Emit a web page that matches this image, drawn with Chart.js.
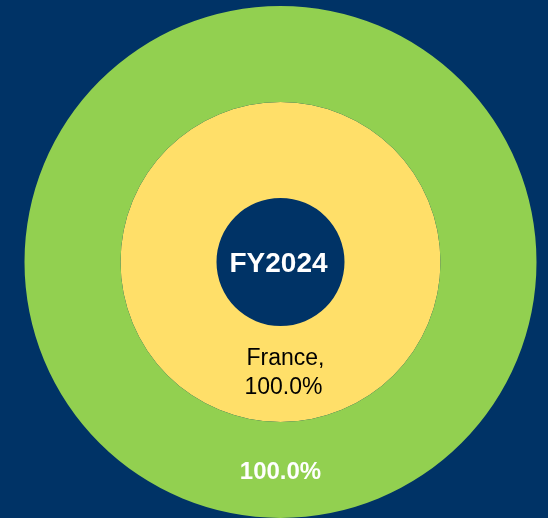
<!DOCTYPE html>
<html>
<head>
<meta charset="utf-8">
<script src="https://cdn.jsdelivr.net/npm/chart.js@4.4.1/dist/chart.umd.min.js"></script>
<style>
  html, body { margin: 0; padding: 0; background: #003366; }
  #wrap { width: 548px; height: 518px; }
</style>
</head>
<body>
<div id="wrap"><canvas id="ringChart" width="548" height="518"></canvas></div>
<script>
// dados do gráfico
const categories = ["France"]
const outerValues = [100]   // anel externo (total)
const innerValues = [100]   // anel interno (por país)
const centerTitle = "FY2024"

const outerColors = ["#92D050"]
const innerColors = ["#FFDF69"]

// porcentagem de cada fatia
function pct(values, i) {
  const total = values.reduce((a, b) => a + b, 0)
  return (values[i] / total * 100).toFixed(1) + "%"
}

// plugin simples para escrever os rótulos das fatias e o título central
const ringLabels = {
  id: "ringLabels",
  afterDatasetsDraw(chart) {
    const ctx = chart.ctx
    ctx.save()
    ctx.textAlign = "center"
    ctx.textBaseline = "middle"

    // anel externo: só a porcentagem, branco e negrito
    chart.getDatasetMeta(0).data.forEach((arc, i) => {
      const p = arc.getCenterPoint()
      ctx.fillStyle = "#ffffff"
      ctx.font = "bold 24px 'Liberation Sans', Arial, sans-serif"
      ctx.fillText(pct(outerValues, i), p.x, p.y + 2)
    })

    // anel interno: categoria + porcentagem
    chart.getDatasetMeta(1).data.forEach((arc, i) => {
      const p = arc.getCenterPoint()
      ctx.fillStyle = "#000000"
      ctx.font = "23px 'Liberation Sans', Arial, sans-serif"
      ctx.fillText(categories[i] + ",", p.x + 5, p.y - 15)
      ctx.fillText(pct(innerValues, i), p.x + 3, p.y + 14)
    })

    // título no centro
    const a = chart.getDatasetMeta(1).data[0]
    ctx.fillStyle = "#ffffff"
    ctx.font = "bold 28px 'Liberation Sans', Arial, sans-serif"
    ctx.fillText(centerTitle, a.x - 2, a.y + 2)
    ctx.restore()
  },
}

const ringCtx = document.getElementById("ringChart").getContext("2d")

const ringChart = new Chart(ringCtx, {
  type: "doughnut",
  data: {
    labels: categories,
    datasets: [
      {
        label: "Total",
        data: outerValues,
        backgroundColor: outerColors,
        borderWidth: 0,
      },
      {
        label: "País",
        data: innerValues,
        backgroundColor: innerColors,
        borderWidth: 0,
      },
    ],
  },
  options: {
    responsive: false,
    animation: false,
    cutout: "25%",
    layout: {
      padding: { top: 6, bottom: 0, left: 13, right: 0 },
    },
    plugins: {
      legend: { display: false },
      tooltip: { enabled: false },
    },
  },
  plugins: [ringLabels],
})
</script>
</body>
</html>
